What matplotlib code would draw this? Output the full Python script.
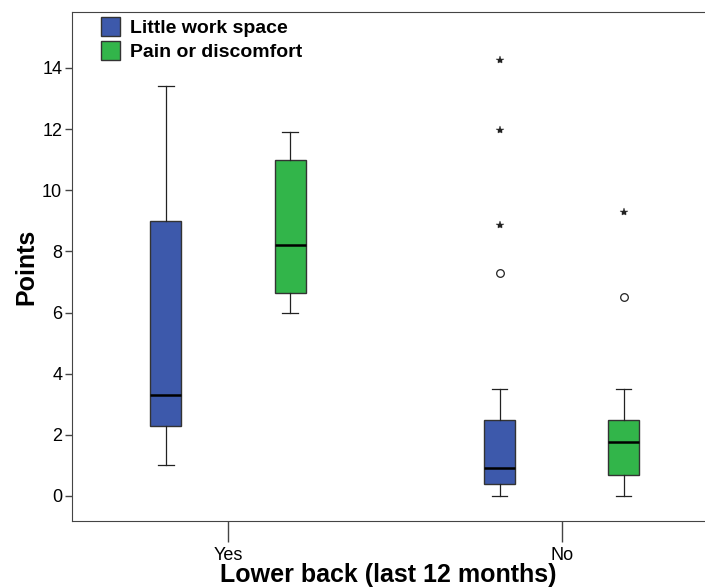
import numpy as np
import matplotlib
matplotlib.use("Agg")
import matplotlib.pyplot as plt
from matplotlib.patches import Patch

plt.rcParams['font.family'] = ['Liberation Sans', 'DejaVu Sans']

categories = ["Yes", "No"]
series = ["Little work space", "Pain or discomfort"]
colors = ["#3d59ab", "#32b54a"]

# five-number summaries per (category, series): whislo, q1, med, q3, whishi
whislo = [[1.0, 6.0], [0.0, 0.0]]
q1 = [[2.3, 6.65], [0.4, 0.7]]
med = [[3.3, 8.2], [0.9, 1.75]]
q3 = [[9.0, 11.0], [2.5, 2.5]]
whishi = [[13.4, 11.9], [3.5, 3.5]]
# outliers: circles (mild) and stars (extreme)
mild = [[[], []], [[7.3], [6.5]]]
extreme = [[[], []], [[8.85, 11.97, 14.27], [9.3]]]

offset = 0.186
width = 0.093

fig = plt.figure(figsize=(7.05, 5.87), dpi=100)
ax = fig.add_axes([0.102, 0.1124, 0.898, 0.8672])

for ci, cat in enumerate(categories):
    for si, name in enumerate(series):
        pos = ci + (si - 0.5) * 2 * offset
        stats = [{"whislo": whislo[ci][si], "q1": q1[ci][si], "med": med[ci][si],
                  "q3": q3[ci][si], "whishi": whishi[ci][si], "fliers": []}]
        ax.bxp(stats, positions=[pos], widths=width, patch_artist=True,
               showfliers=False, manage_ticks=False,
               boxprops=dict(facecolor=colors[si], edgecolor="#333333", linewidth=1.0),
               medianprops=dict(color="black", linewidth=1.8),
               whiskerprops=dict(color="#222222", linewidth=0.9),
               capprops=dict(color="#222222", linewidth=0.9),
               capwidths=width * 0.5)
        if mild[ci][si]:
            ax.plot([pos] * len(mild[ci][si]), mild[ci][si], "o", mfc="none",
                    mec="#222222", ms=5.5, mew=0.9)
        if extreme[ci][si]:
            ax.plot([pos] * len(extreme[ci][si]), extreme[ci][si], "*", color="#222222",
                    ms=6, mew=0.3)

ax.set_xlim(-0.468, 1.43)
ax.set_ylim(-0.82, 15.83)
ax.set_xticks(range(len(categories)))
ax.set_xticklabels(categories)
ax.set_yticks(np.arange(0, 15, 2))
ax.tick_params(axis="x", length=15, width=1, color="#444444", labelsize=13, pad=4)
ax.tick_params(axis="y", length=5, width=1, color="#444444", labelsize=13, pad=2)
for s in ["left", "bottom", "top"]:
    ax.spines[s].set_color("#444444")
ax.spines["right"].set_visible(False)

ax.set_ylabel("Points", fontsize=18, fontweight="bold", labelpad=3)
ax.set_xlabel("Lower back (last 12 months)", fontsize=18, fontweight="bold", labelpad=-1)

handles = [Patch(facecolor=c, edgecolor="#333333", label=n) for c, n in zip(colors, series)]
ax.legend(handles=handles, loc="upper left", bbox_to_anchor=(0.025, 1.016), frameon=False,
          prop=dict(size=14, weight="bold"), handlelength=0.95, handleheight=1.1,
          handletextpad=0.5, labelspacing=0.2, borderpad=0.2)

fig.savefig("out.png", dpi=100)
